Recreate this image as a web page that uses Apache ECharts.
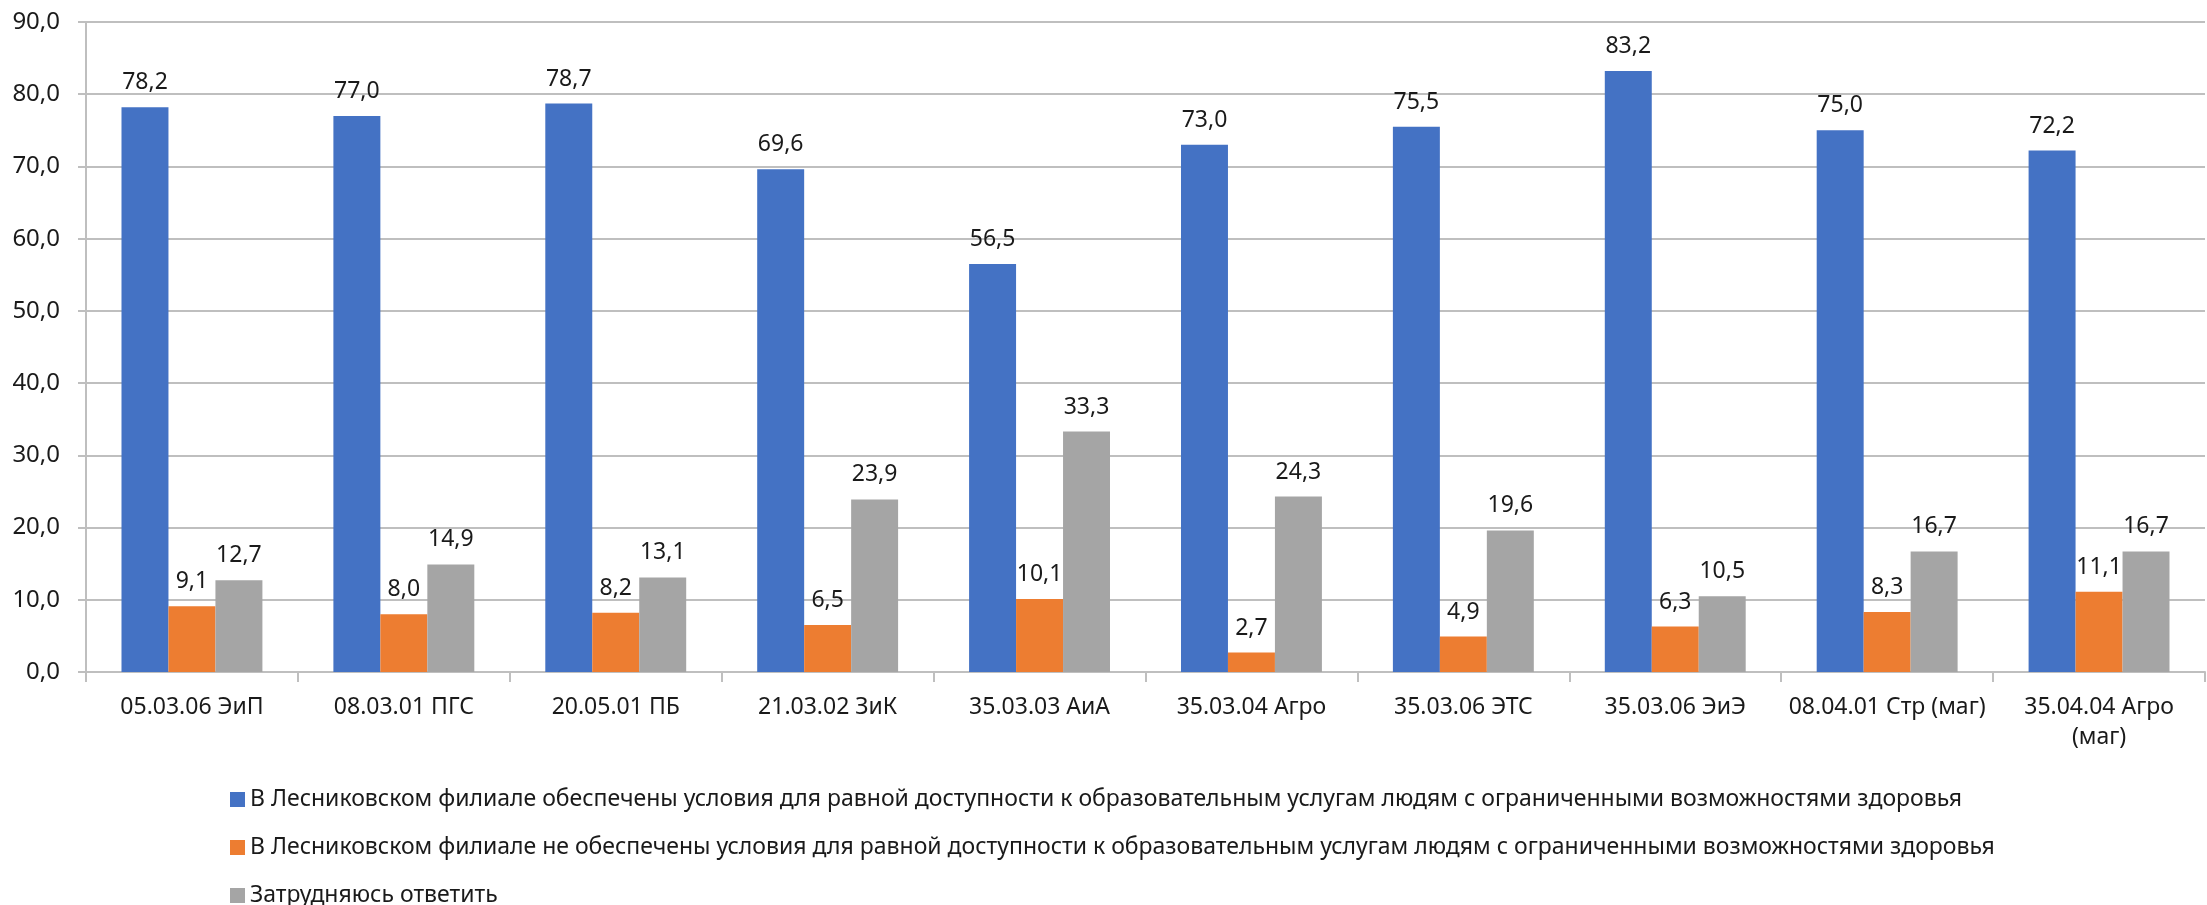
<!DOCTYPE html>
<html>
<head>
<meta charset="utf-8">
<script src="https://cdn.jsdelivr.net/npm/echarts@6/dist/echarts.min.js"></script>
<style>
html,body{margin:0;padding:0;background:#fff;}
#chart{width:2207px;height:905px;}
</style>
</head>
<body>
<div id="chart"></div>
<script>
var categories = ['05.03.06 ЭиП','08.03.01 ПГС','20.05.01 ПБ','21.03.02 ЗиК','35.03.03 АиА','35.03.04 Агро','35.03.06 ЭТС','35.03.06 ЭиЭ','08.04.01 Стр (маг)','35.04.04 Агро\n(маг)'];
var seriesNames = [
  'В Лесниковском филиале обеспечены условия для равной доступности к образовательным услугам людям с ограниченными возможностями здоровья',
  'В Лесниковском филиале не обеспечены условия для равной доступности к образовательным услугам людям с ограниченными возможностями здоровья',
  'Затрудняюсь ответить'
];
var provided = [78.2, 77.0, 78.7, 69.6, 56.5, 73.0, 75.5, 83.2, 75.0, 72.2];
var notProvided = [9.1, 8.0, 8.2, 6.5, 10.1, 2.7, 4.9, 6.3, 8.3, 11.1];
var hardToSay = [12.7, 14.9, 13.1, 23.9, 33.3, 24.3, 19.6, 10.5, 16.7, 16.7];
var colors = ['#4472C4', '#ED7D31', '#A5A5A5'];

var FONT = 'Noto Sans';
function fmt(v){ return Number(v).toFixed(1).replace('.', ','); }
function mk(name, data, color){
  return {
    name: name, type: 'bar', data: data, barGap: '0%', barCategoryGap: '33.5%',
    itemStyle: {color: color},
    label: {show: true, position: 'top', distance: 13, color: '#1a1a1a', fontFamily: FONT, fontSize: 23,
      formatter: function(p){ return fmt(p.value); }}
  };
}
var chart = echarts.init(document.getElementById('chart'), null, {renderer: 'canvas'});
chart.setOption({
  animation: false,
  backgroundColor: '#ffffff',
  color: colors,
  grid: {left: 86, right: 2, top: 22, bottom: 233, containLabel: false},
  legend: {
    orient: 'vertical', left: 225, top: 783, height: 160, itemGap: 25,
    icon: 'rect', itemWidth: 15, itemHeight: 15,
    textStyle: {fontFamily: FONT, fontSize: 23, color: '#1a1a1a'},
    data: seriesNames
  },
  xAxis: {
    type: 'category', data: categories,
    axisLine: {lineStyle: {color: '#bfbfbf', width: 2}},
    axisTick: {show: true, length: 10, lineStyle: {color: '#bfbfbf', width: 2}},
    axisLabel: {fontFamily: FONT, fontSize: 23, color: '#1a1a1a', margin: 20, lineHeight: 30, interval: 0}
  },
  yAxis: {
    type: 'value', min: 0, max: 90, interval: 10,
    axisLine: {show: true, lineStyle: {color: '#bfbfbf', width: 2}},
    axisTick: {show: true, length: 8, inside: false, lineStyle: {color: '#bfbfbf', width: 2}},
    splitLine: {lineStyle: {color: '#bfbfbf', width: 2}},
    axisLabel: {fontFamily: FONT, fontSize: 24, color: '#1a1a1a', margin: 26, formatter: fmt}
  },
  series: [
    mk(seriesNames[0], provided, colors[0]),
    mk(seriesNames[1], notProvided, colors[1]),
    mk(seriesNames[2], hardToSay, colors[2])
  ]
});
</script>
</body>
</html>
